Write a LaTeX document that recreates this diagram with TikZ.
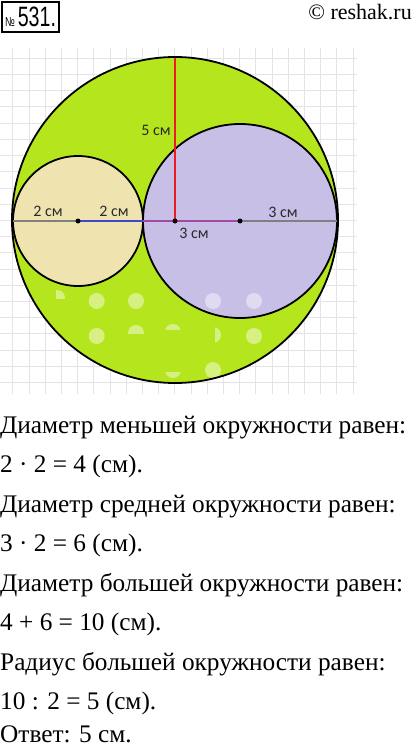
\documentclass[tikz,border=0pt]{standalone}
\usepackage{fontspec}
\setmainfont{Liberation Serif}
\newfontfamily\labelfont{Carlito}
\newfontfamily\narrowfont[FakeStretch=0.7]{Liberation Sans}
\usetikzlibrary{positioning}
\definecolor{bigfill}{HTML}{B5E61D}
\definecolor{smallfill}{HTML}{EFE4B0}
\definecolor{midfill}{HTML}{C8BFE7}
\definecolor{gridgray}{HTML}{E4E4E8}
\definecolor{labelgray}{HTML}{2A2A2A}
\definecolor{radred}{HTML}{ED1C24}
\definecolor{radblue}{HTML}{3F48CC}
\definecolor{radpurple}{HTML}{A349A4}
\definecolor{radgray}{HTML}{808080}

\begin{document}
\begin{tikzpicture}[
    x=1pt, y=-1pt,
    gridline/.style={draw=gridgray, line width=0.8pt},
    ring/.style={draw=black, line width=1.8pt},
    radius line/.style={line width=2pt},
    spot/.style={fill=white, fill opacity=0.45},
    centre/.style={fill=black},
    cmlabel/.style={font=\labelfont\fontsize{16}{16}\selectfont, text=labelgray, inner sep=0pt},
    textline/.style={anchor=base west, inner sep=0pt, font=\fontsize{25.3}{25.3}\selectfont},
    numbox/.style={draw, line width=2pt, minimum width=57pt, minimum height=30pt, inner sep=0pt}
]
    \useasboundingbox (0,0) rectangle (415,749);

    % header
    \node[numbox] (num) at (30.5,17) {\narrowfont\fontsize{13}{13}\selectfont №\hspace{3pt}\fontsize{28}{28}\selectfont 531.};
    \node[anchor=base east, inner sep=0pt, font=\fontsize{22}{22}\selectfont] (site) at (412,20) {© reshak.ru};

    % squared paper
    \foreach \i in {0,...,21}
        \draw[gridline] ({12.7+16.2*\i},48) -- ({12.7+16.2*\i},394);
    \foreach \j in {0,...,20}
        \draw[gridline] (0,{58.3+16.2*\j}) -- (357,{58.3+16.2*\j});

    % circles
    \coordinate (big) at (175,220);
    \coordinate (cs) at (78,221);
    \coordinate (cm) at (240,221);
    \coordinate (bigc) at (175,221);
    \coordinate (top) at (175,58);
    \coordinate (left) at (13,221);
    \coordinate (touch) at (143,221);
    \coordinate (right) at (337,221);

    \fill[bigfill] (big) circle[radius=163];
    \fill[smallfill] (cs) circle[radius=65];
    \fill[midfill] (cm) circle[radius=97];

    \begin{scope}
        \clip (big) circle[radius=163];
        \foreach \p in {(96.7,301),(136,301),(213,301),(254,301),(96.7,336),(254,336),(213,370)}
            \fill[spot] \p circle[radius=8];
        \begin{scope}
            \clip (120,317) rectangle (152,333);
            \fill[spot] (136,333) circle[radius=8];
        \end{scope}
        \begin{scope}
            \clip (160,320) rectangle (186,329);
            \fill[spot] (173,332) circle[radius=8];
        \end{scope}
        \begin{scope}
            \clip (215,320) rectangle (230,350);
            \fill[spot] (213,335) circle[radius=8];
        \end{scope}
        \begin{scope}
            \clip (160,372) rectangle (186,390);
            \fill[spot] (173,370) circle[radius=8];
        \end{scope}
        \begin{scope}
            \clip (56,288) rectangle (70,298);
            \fill[spot] (57,298) circle[radius=8];
        \end{scope}
    \end{scope}

    \draw[ring] (big) circle[radius=163];
    \draw[ring] (cs) circle[radius=65];
    \draw[ring] (cm) circle[radius=97];

    % radii
    \draw[radius line, radgray] (left) -- (cs);
    \draw[radius line, radblue] (cs) -- (touch);
    \draw[radius line, radpurple] (touch) -- (cm);
    \draw[radius line, radgray] (cm) -- (right);
    \draw[radius line, radred] (top) -- (bigc);

    \fill[centre] (cs) circle[radius=2.5];
    \fill[centre] (bigc) circle[radius=2.5];
    \fill[centre] (cm) circle[radius=2.5];

    % lengths
    \node[cmlabel] (r1) at (48,211) {2 см};
    \node[cmlabel] (r2) at (114,211) {2 см};
    \node[cmlabel] (r5) at (156,130) {5 см};
    \node[cmlabel] (r3a) at (194,233) {3 см};
    \node[cmlabel] (r3b) at (283,212) {3 см};

    % solution
    \node[textline] (l1) at (0,433) {Диаметр меньшей окружности равен:};
    \node[textline] (l2) at (0,472) {2 · 2 = 4 (см).};
    \node[textline] (l3) at (0,512) {Диаметр средней окружности равен:};
    \node[textline] (l4) at (0,551) {3 · 2 = 6 (см).};
    \node[textline] (l5) at (0,591) {Диаметр большей окружности равен:};
    \node[textline] (l6) at (0,630) {4 + 6 = 10 (см).};
    \node[textline] (l7) at (0,670) {Радиус большей окружности равен:};
    \node[textline] (l8) at (0,709) {10 : 2 = 5 (см).};
    \node[textline] (l9) at (0,742) {Ответ: 5 см.};
\end{tikzpicture}
\end{document}
